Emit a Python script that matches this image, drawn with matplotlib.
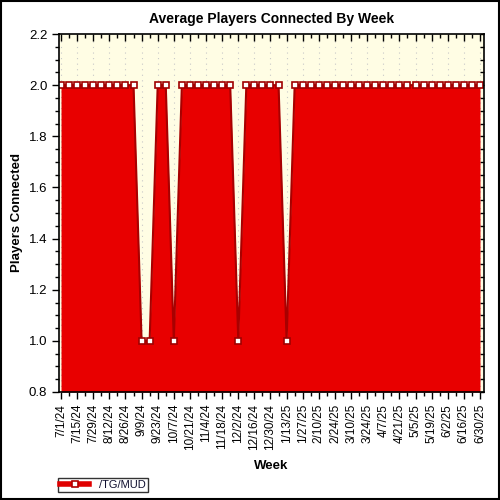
import datetime as dt
import numpy as np
import matplotlib
matplotlib.use("Agg")
import matplotlib.pyplot as plt
from matplotlib.ticker import MultipleLocator, FixedLocator

plt.rcParams['font.family'] = ['Liberation Sans', 'DejaVu Sans']

# weekly samples, 7/1/24 .. 6/30/25
start = dt.date(2024, 7, 1)
n_weeks = 53
weeks = [start + dt.timedelta(weeks=i) for i in range(n_weeks)]
week_labels = [f"{d.month}/{d.day}/{d.year % 100}" for d in weeks]

# average players connected (2.0 except five dips)
players = [2.0] * 10 + [1.0, 1.0] + [2.0, 2.0] + [1.0] + [2.0] * 7 + [1.0] \
    + [2.0] * 5 + [1.0] + [2.0] * 24
series_name = "/TG/MUD"

x = np.arange(n_weeks)
y = np.array(players)

fig = plt.figure(figsize=(5, 5), dpi=100)
fig.patch.set_facecolor("white")
ax = fig.add_axes([0.118, 0.216, 0.85, 0.716])
ax.set_facecolor("#FFFDE4")

ax.fill_between(x, 0.8, y, color="#E80000", lw=0, zorder=2)
ax.plot(x, y, color="#A80000", lw=1.5, zorder=3, label=series_name,
        marker="s", ms=4.7, mfc="white", mec="#A00000", mew=1.2)

ax.set_xlim(-0.25, 52.5)
ax.set_ylim(0.8, 2.2)

ax.xaxis.set_major_locator(FixedLocator(x[::2]))
ax.xaxis.set_minor_locator(FixedLocator(x[1::2]))
ax.set_xticklabels(week_labels[::2], rotation=90, fontsize=8.5)
ax.yaxis.set_major_locator(MultipleLocator(0.2))
ax.yaxis.set_minor_locator(MultipleLocator(0.05))
ax.set_yticklabels([f"{v:.1f}" for v in ax.get_yticks()], fontsize=9.5)

ax.tick_params(axis="both", which="major", direction="out", length=5,
               width=1, color="black", top=True, right=True)
ax.tick_params(axis="both", which="minor", direction="out", length=3,
               width=1, color="black", top=True, right=True)
for t in ax.xaxis.get_major_ticks() + ax.xaxis.get_minor_ticks():
    t.tick2line.set_marker(3)  # inward on top
for t in ax.yaxis.get_major_ticks() + ax.yaxis.get_minor_ticks():
    t.tick2line.set_marker(0)  # inward on right
for t in ax.yaxis.get_major_ticks():
    t.tick2line.set_markersize(3)

ax.grid(axis="x", which="major", color="#C8C8C8", ls=(0, (1, 4)), lw=0.8,
        zorder=1)
for s in ax.spines.values():
    s.set_linewidth(1.2)
    s.set_zorder(5)

ax.set_title("Average Players Connected By Week", fontsize=10,
             fontweight="bold", pad=8)
ax.set_ylabel("Players Connected", fontsize=9.5, fontweight="bold")
ax.yaxis.set_label_coords(-0.085, 0.5)
ax.set_xlabel("Week", fontsize=9.5, fontweight="bold", labelpad=7)

leg = fig.legend(loc="lower left", bbox_to_anchor=(0.116, 0.016),
                 fontsize=8, frameon=True, fancybox=False, borderpad=0.2,
                 handlelength=2.6, handletextpad=0.9, borderaxespad=0)
leg.get_frame().set_edgecolor("black")
leg.get_frame().set_linewidth(1.0)
for h in leg.legend_handles:
    h.set_color("#E00000")
    h.set_linewidth(4)
    h.set_markerfacecolor("white")
    h.set_markeredgecolor("#B00000")
for t in leg.get_texts():
    t.set_color("#101030")

fig.patches.append(plt.Rectangle((0.002, 0.002), 0.996, 0.996,
                                 transform=fig.transFigure, fill=False,
                                 edgecolor="black", lw=1.5))

fig.savefig("out.png", dpi=100)
